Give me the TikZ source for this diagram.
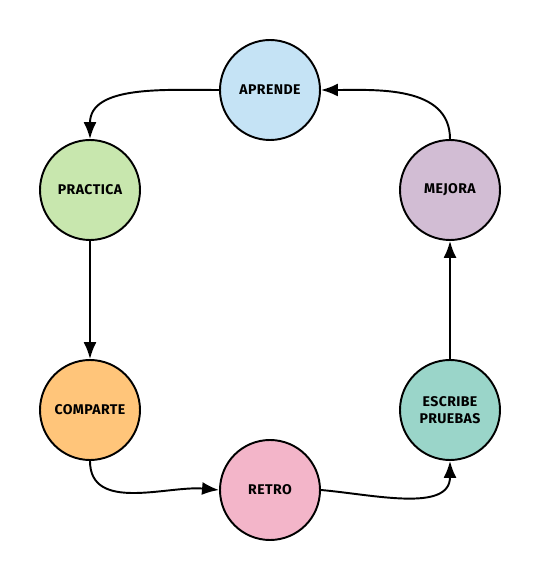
\documentclass[tikz,border=0pt]{standalone}
\usepackage{fontspec}
\setmainfont{Fira Sans}
\usetikzlibrary{arrows.meta}
\definecolor{azul}{HTML}{C5E3F5}
\definecolor{verde}{HTML}{C8E7AE}
\definecolor{naranja}{HTML}{FFC57A}
\definecolor{rosa}{HTML}{F3B5C9}
\definecolor{turquesa}{HTML}{9AD5C9}
\definecolor{lila}{HTML}{D2BDD4}
\begin{document}
\begin{tikzpicture}[>={Latex[length=3.4mm,width=2.6mm]},
    etapa/.style ={circle, draw, line width=1.1pt, inner sep = 0pt, minimum size=2cm, align=center,
      font=\fontsize{8}{9.5}\selectfont\bfseries\addfontfeatures{LetterSpace=3}},
    flecha/.style ={->, line width=1.1pt}]
   \useasboundingbox (0,0) rectangle (10.8,11.6);
   \node[etapa, fill=azul] (A) at (5.4,9.8) {APRENDE};
   \node[etapa, fill=verde] (P) at (1.8,7.8) {PRACTICA};
   \node[etapa, fill=naranja] (C) at (1.8,3.4) {COMPARTE};
   \node[etapa, fill=rosa] (R) at (5.4,1.8) {RETRO};
   \node[etapa, fill=turquesa] (E) at (9.0,3.4) {ESCRIBE\\PRUEBAS};
   \node[etapa, fill=lila] (M) at (9.0,7.8) {MEJORA};
   \draw[flecha] (A.west) to [out=180, in=90] (P.north);
   \draw[flecha] (P) to (C);
   \draw[flecha] (C.south) to [out=-90, in=175] (R.west);
   \draw[flecha] (R.east) to [out=-5, in=-90] (E.south);
   \draw[flecha] (E) to (M);
   \draw[flecha] (M.north) to [out=90, in=0] (A.east);
 \end{tikzpicture}
\end{document}
